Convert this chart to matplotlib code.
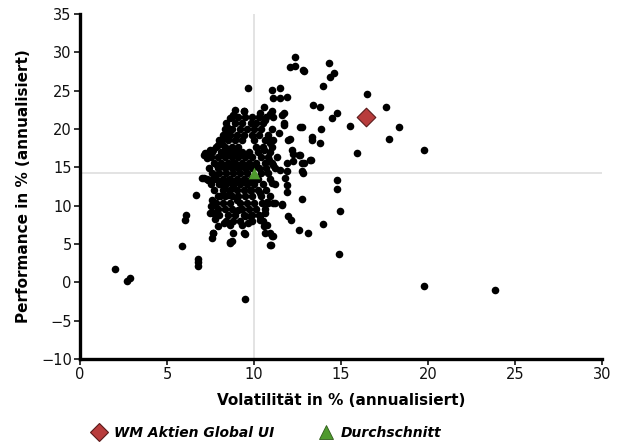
import numpy as np
import matplotlib.pyplot as plt
from matplotlib.lines import Line2D

# Fonds: Volatilität / Performance (annualisiert)
vol_aussen = [2.0, 2.7, 2.85, 5.85, 6.75, 6.8, 6.8, 9.48, 7.57, 7.65, 8.62, 8.72, 9.48,
              10.96, 11.07, 12.55, 13.07, 13.95, 14.9, 19.77, 23.85,
              14.31, 12.8, 14.56, 14.33, 13.95, 16.51, 13.41, 13.79, 14.75, 14.48, 17.57,
              15.52, 18.35, 12.74, 13.85, 13.31, 13.35, 13.79, 17.72, 15.9, 19.77, 13.26,
              12.64, 12.74, 12.8, 14.75, 14.75, 12.74, 14.94,
              12.36, 12.07, 12.36, 12.84, 9.67, 11.02, 11.49, 11.11, 11.49, 11.88, 10.54,
              9.39, 8.81, 11.69, 12.64, 11.69, 11.4, 11.97, 13.2, 12.84, 11.78, 11.88, 11.9,
              11.11, 11.59, 7.13, 7.38, 7.66, 7.09, 6.67, 6.09, 6.03, 7.51, 7.47, 8.14,
              7.57, 7.57, 7.66, 7.76, 7.95, 7.66, 8.24, 8.62, 8.81, 8.62, 9.39, 9.29,
              9.77, 9.67, 10.34, 10.54, 10.63, 8.24, 8.05,
              10.34, 11.2, 11.0, 10.73, 11.2, 11.59, 10.34, 10.73, 10.92, 11.0, 10.92,
              11.97, 12.1, 11.11, 11.69, 10.63, 12.07, 10.82, 10.92, 10.54, 12.16, 12.26,
              12.55, 11.88, 12.26, 10.88, 11.88, 12.74, 11.49,
              8.91, 9.39, 10.34, 10.92, 11.59, 11.02, 8.62, 8.43, 8.52, 8.24, 7.95, 7.47,
              7.18, 7.28, 7.86, 7.57, 8.05, 8.52, 8.81, 7.0, 7.37, 7.76, 8.24, 8.52, 9.0,
              9.1, 9.48, 10.44, 10.63, 11.11, 8.71, 9.48, 9.77]
perf_aussen = [1.7, 0.2, 0.6, 4.7, 3.1, 2.6, 2.1, -2.2, 5.75, 6.4, 5.1, 5.4, 6.3,
               4.9, 6.05, 6.8, 6.4, 7.6, 3.7, -0.5, -0.95,
               28.65, 27.7, 27.35, 26.7, 25.65, 24.5, 23.1, 22.9, 22.1, 21.4, 22.8,
               20.4, 20.2, 20.2, 20.0, 19.0, 18.5, 18.2, 18.65, 16.8, 17.3, 15.9,
               16.6, 15.5, 14.2, 13.35, 12.1, 10.9, 9.35,
               29.4, 28.1, 28.2, 27.6, 25.3, 25.1, 25.3, 24.0, 24.0, 24.1, 22.9,
               22.3, 21.8, 22.05, 20.2, 20.5, 19.4, 18.6, 16.0, 15.5, 13.6, 12.7, 11.8,
               10.3, 10.2, 16.6, 17.05, 17.3, 13.6, 11.4, 8.8, 8.1, 9.9, 9.0, 18.05,
               10.75, 9.9, 9.0, 8.2, 7.3, 6.4, 7.7, 7.5, 6.4, 5.3, 6.4, 7.5,
               8.6, 7.7, 8.1, 7.3, 6.4, 12.5, 11.2,
               11.6, 12.8, 13.0, 10.5, 10.4, 10.1, 8.6, 7.5, 6.4, 6.0, 4.9,
               8.65, 8.1, 21.6, 20.75, 21.2, 18.65, 18.8, 18.1, 17.3, 17.3, 16.75,
               16.6, 15.5, 15.75, 16.0, 14.45, 14.45, 14.6,
               22.4, 22.35, 22.05, 22.0, 21.8, 22.3, 21.4, 20.3, 19.65, 18.8, 17.9, 17.3,
               16.8, 16.2, 15.3, 13.35, 13.1, 13.35, 12.7, 13.6, 13.35, 14.0, 12.3, 11.4, 10.75,
               9.45, 8.6, 10.3, 9.0, 15.3, 15.5, 13.35, 12.05]

vol_kern = [8.7, 9.1, 9.5, 9.9, 10.3, 10.7,
            8.4, 8.9, 9.3, 9.8, 10.1, 10.5,
            8.3, 8.7, 9.2, 9.6, 10.0, 10.4, 11.0,
            8.2, 8.6, 9.0, 9.4, 9.9, 10.3, 10.8,
            8.0, 8.5, 8.9, 9.3, 10.0, 10.6, 11.1,
            7.8, 8.3, 8.7, 9.1, 10.1, 10.5, 11.0,
            7.6, 8.1, 8.5, 8.9, 9.3, 9.7, 10.2, 10.9,
            7.5, 7.9, 8.3, 8.7, 9.1, 9.5, 9.9, 10.4, 10.8, 11.3,
            7.7, 8.1, 8.5, 8.9, 9.3, 9.7, 10.1, 10.6, 11.0,
            7.4, 7.9, 8.3, 8.7, 9.1, 9.5, 9.9, 10.3, 10.7, 11.2,
            7.6, 8.0, 8.4, 8.8, 9.2, 9.6, 10.4, 10.8,
            7.3, 7.8, 8.2, 8.6, 9.0, 9.4, 9.8, 10.2, 10.9,
            7.5, 8.0, 8.4, 8.8, 9.2, 9.6, 10.0, 10.5,
            7.7, 8.2, 8.6, 9.0, 9.4, 9.8, 10.2, 10.7,
            7.9, 8.3, 8.7, 9.1, 9.5, 9.9, 10.4, 10.9,
            7.8, 8.2, 8.6, 9.2, 9.6, 10.0, 10.8,
            7.9, 8.3, 8.7, 9.3, 9.7, 10.1, 10.6,
            8.0, 8.5, 8.9, 9.4, 9.9, 10.3,
            8.4, 8.8, 9.2, 9.9, 10.5]
perf_kern = [21.5] * 6 + [20.8] * 6 + [20.0] * 7 + [19.2] * 7 + [18.5] * 7 + [17.7] * 7 + \
            [17.0] * 8 + [16.3] * 10 + [15.6] * 9 + [14.9] * 10 + [14.2] * 8 + [13.5] * 9 + \
            [12.8] * 8 + [12.0] * 8 + [11.2] * 8 + [10.4] * 7 + [9.6] * 7 + [8.8] * 6 + [8.0] * 5

fonds_vol, fonds_perf = 16.44, 21.6
schnitt_vol, schnitt_perf = 10.0, 14.2
linie_vol, linie_perf = 10.0, 14.3

plt.rcParams['font.family'] = ['DejaVu Sans']

fig = plt.figure(figsize=(6.26, 4.46), dpi=100)
ax = fig.add_axes([0.128, 0.195, 0.834, 0.774])

ax.axvline(linie_vol, color='#dedede', lw=1.2, zorder=1)
ax.axhline(linie_perf, color='#dedede', lw=1.2, zorder=1)

ax.scatter(vol_aussen + vol_kern, perf_aussen + perf_kern, s=30, c='black',
           linewidths=0, zorder=2)
ax.scatter([fonds_vol], [fonds_perf], marker='D', s=90, c='#b83c3c',
           edgecolors='#5a1a1a', linewidths=0.8, zorder=4)
ax.scatter([schnitt_vol], [schnitt_perf], marker='^', s=70, c='#4f9a2e',
           linewidths=0, zorder=4)

ax.set_xlim(0, 30)
ax.set_ylim(-10, 35)
ax.set_xticks(range(0, 31, 5))
ax.set_yticks(range(-10, 36, 5))
ax.set_yticklabels([str(v).replace('-', '\u2212') for v in range(-10, 36, 5)])
for s in ['top', 'right']:
    ax.spines[s].set_visible(False)
for s in ['left', 'bottom']:
    ax.spines[s].set_linewidth(2.4)
ax.tick_params(direction='out', length=4, width=1.2, labelsize=10.5, colors='#111111', pad=2)

ax.set_xlabel('Volatilität in % (annualisiert)', fontsize=11, fontweight='bold', labelpad=8)
ax.set_ylabel('Performance in % (annualisiert)', fontsize=11, fontweight='bold', labelpad=7)

handles = [Line2D([], [], marker='D', ls='', markersize=9, markerfacecolor='#b83c3c',
                  markeredgecolor='#5a1a1a', markeredgewidth=0.8),
           Line2D([], [], marker='^', ls='', markersize=10, markerfacecolor='#4f9a2e',
                  markeredgecolor='#2f5a1a', markeredgewidth=0.6)]
fig.legend(handles, ['WM Aktien Global UI', 'Durchschnitt'], loc='center left',
           bbox_to_anchor=(0.127, 0.03), ncol=2, frameon=False, columnspacing=3.2,
           handlelength=1.0, handletextpad=0.6,
           prop={'size': 10, 'style': 'italic', 'weight': 'bold'})

fig.savefig('out.png', dpi=100)
